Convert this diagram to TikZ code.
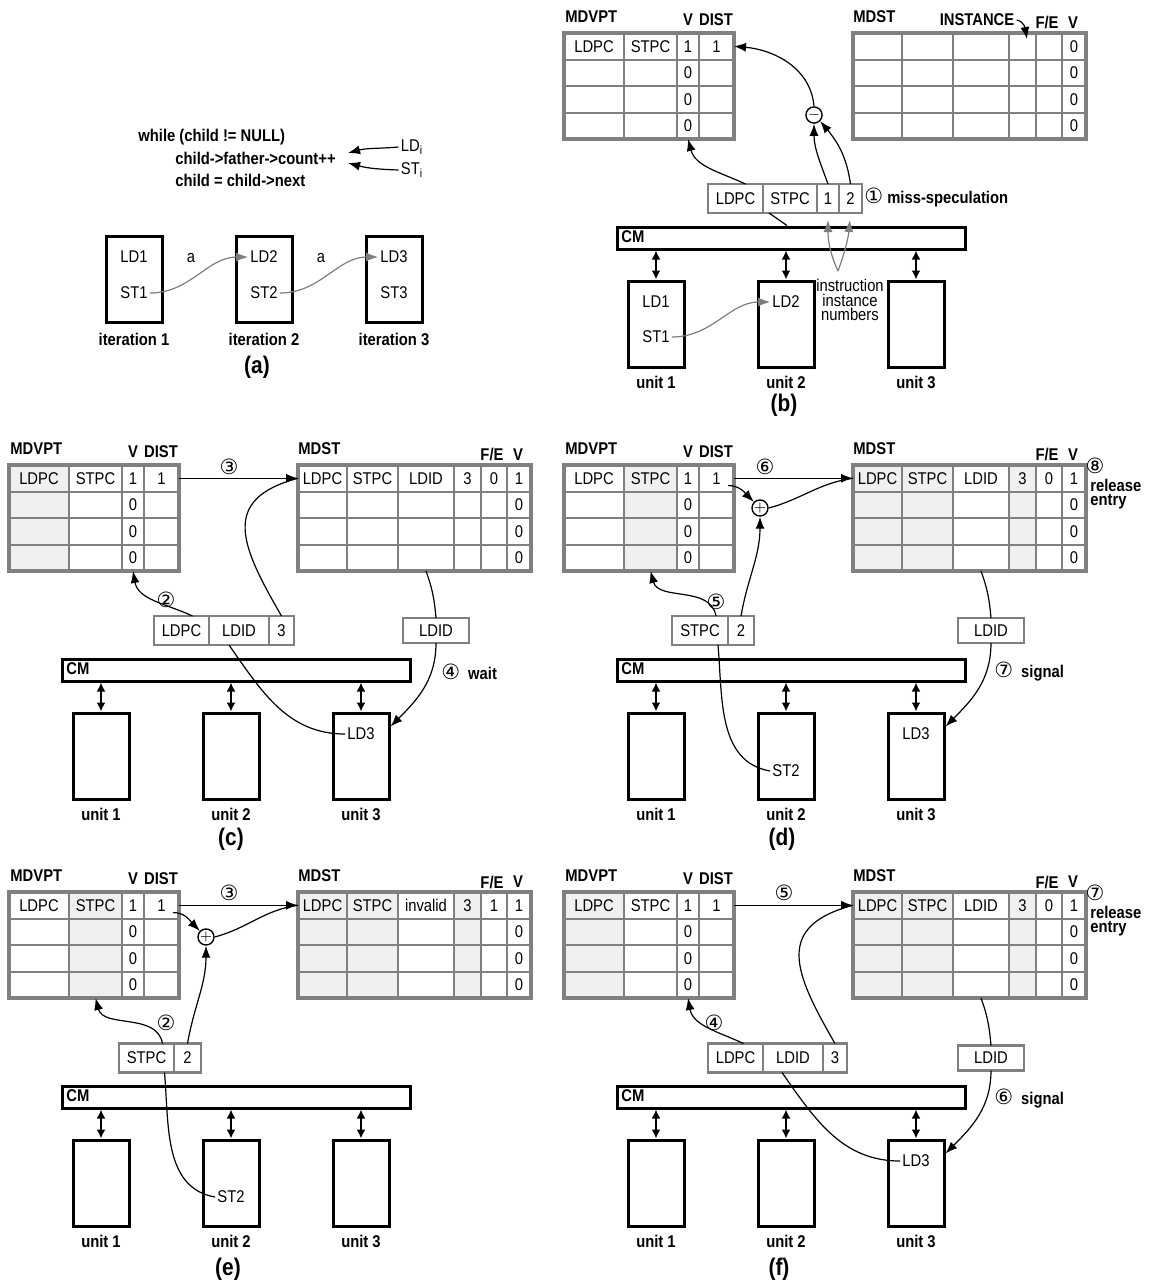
\documentclass[tikz,border=0pt]{standalone}
\usepackage{fontspec}
\setmainfont{Liberation Sans}[FakeStretch=0.87]
\newfontfamily\circfont{DejaVu Sans}
\usepackage{tikz}
\usetikzlibrary{positioning,calc,fit,arrows.meta}
\definecolor{tabgray}{RGB}{128,128,128}
\definecolor{arrgray}{RGB}{125,125,125}
\definecolor{cellshade}{RGB}{240,240,240}
\newcommand{\nrm}{\fontsize{8.5pt}{10pt}\selectfont}
\newcommand{\cn}[1]{{\circfont\mdseries\fontsize{10.5pt}{10pt}\selectfont #1}}

% MDVPT table: #1 name, #2 shaded column (0 = none)
\newcommand{\vptable}[2]{%
  \node[hdr, anchor=west] (#1-lbl) at (8,-17) {MDVPT};
  \node[hdr] (#1-hv) at (133,-20) {V};
  \node[hdr] (#1-hd) at (161,-20) {DIST};
  \foreach \r in {1,...,4} {
    \foreach \c/\xa/\w/\txa/\txb in {1/9/60/LDPC/,2/69/53/STPC/,3/122/22/1/0,4/144/35/1/} {
      \ifnum\c=#2 \def\fc{cellshade}\else\def\fc{white}\fi
      \ifnum\r=1 \let\ct\txa\else\let\ct\txb\fi
      \node[cell, fill=\fc, minimum width=\w*0.5pt] (#1-\r-\c) at ({\xa+0.5*\w},{-33-(\r-0.5)*26.5}) {\ct};
    }
  }
  \node[tabframe, fit=(#1-1-1)(#1-4-4)] (#1) {};
}

% MDST table: #1 name, #2 shaded (0/1), #3-#8 first row
\newcommand{\sttable}[8]{%
  \node[hdr, anchor=west] (#1-lbl) at (296,-17) {MDST};
  \node[hdr] (#1-hf) at (492,-23) {F/E};
  \node[hdr] (#1-hv) at (518,-23) {V};
  \foreach \r in {1,...,4} {
    \foreach \c/\xa/\w/\s/\txa/\txb in {1/298/49/1/#3/,2/347/51/1/#4/,3/398/56/0/#5/,4/454/27/1/#6/,5/481/26/0/#7/,6/507/24/0/#8/0} {
      \pgfmathtruncatemacro\sh{\s*#2}
      \ifnum\sh=1 \def\fc{cellshade}\else\def\fc{white}\fi
      \ifnum\r=1 \let\ct\txa\else\let\ct\txb\fi
      \node[cell, fill=\fc, minimum width=\w*0.5pt] (#1-\r-\c) at ({\xa+0.5*\w},{-33-(\r-0.5)*26.5}) {\ct};
    }
  }
  \node[tabframe, fit=(#1-1-1)(#1-4-6)] (#1) {};
}

% CM bar with three units: #1 prefix
\newcommand{\cmunits}[1]{%
  \node[cmbar] (#1-cm) at (236,-238) {};
  \node[hdr, anchor=west] (#1-cml) at (64,-237) {CM};
  \foreach \i/\x in {1/101,2/231,3/361} {
    \node[unitbox] (#1-u\i) at (\x,-324) {};
    \node[hdr, below=2.5pt of #1-u\i] (#1-ul\i) {unit \i};
    \draw[dbl] (#1-u\i.north |- #1-cm.south) -- (#1-u\i.north);
  }
}

\begin{document}
\begin{tikzpicture}[x=0.5pt, y=0.5pt, font=\nrm]
  \tikzstyle{cell} = [rectangle, draw=tabgray, line width=1pt, inner sep=0pt, outer sep=0pt, minimum height=13.25pt]
  \tikzstyle{tabframe} = [rectangle, draw=tabgray, line width=1.6pt, inner sep=0pt]
  \tikzstyle{reqcell} = [rectangle, draw=tabgray, line width=1.3pt, fill=white, inner sep=0pt, outer sep=0pt, minimum height=14.5pt]
  \tikzstyle{unitbox} = [rectangle, draw, line width=1.5pt, fill=white, minimum width=28pt, minimum height=43pt, inner sep=0pt]
  \tikzstyle{cmbar} = [rectangle, draw, line width=1.5pt, fill=white, minimum width=174pt, minimum height=11pt, inner sep=0pt]
  \tikzstyle{hdr} = [font=\nrm\bfseries, inner sep=1pt]
  \tikzstyle{txt} = [font=\nrm, inner sep=1pt]
  \tikzstyle{plabel} = [font=\fontsize{12pt}{14pt}\selectfont\bfseries, inner sep=1pt]
  \tikzstyle{op} = [circle, draw, line width=0.7pt, fill=white, minimum size=6.5pt, inner sep=0pt, font=\fontsize{7pt}{7pt}\selectfont\bfseries]
  \tikzstyle{link} = [line width=0.6pt]
  \tikzstyle{arr} = [link, -{Latex[length=6pt,width=4.5pt]}]
  \tikzstyle{garr} = [arr, draw=arrgray]
  \tikzstyle{dbl} = [line width=1pt, {Latex[length=4.5pt,width=4.5pt]}-{Latex[length=4.5pt,width=4.5pt]}]
  \tikzstyle{note} = [font=\fontsize{8.5pt}{7pt}\selectfont\bfseries, align=left, anchor=north west, inner sep=1pt]

  \useasboundingbox (0,0) rectangle (1156,-1287);

  % (a) the loop and its iterations
  \node[hdr, anchor=west] (a-l1) at (136,-137) {while (child != NULL)};
  \node[hdr, anchor=west] (a-l2) at (173,-158) {child->father->count++};
  \node[hdr, anchor=west] (a-l3) at (173,-180) {child = child->next};
  \node[txt] (a-ldi) at (412,-147) {LD\textsubscript{i}};
  \node[txt] (a-sti) at (412,-170) {ST\textsubscript{i}};
  \draw[arr] (a-ldi.west) to[out=185,in=15] ([xshift=5pt,yshift=2.5pt]a-l2.east);
  \draw[arr] (a-sti.west) to[out=178,in=-15] ([xshift=5pt,yshift=-2.5pt]a-l2.east);
  \foreach \i/\x in {1/134,2/264,3/394} {
    \node[unitbox] (a-it\i) at (\x,-279) {};
    \node[txt] (a-ld\i) at (\x,-257) {LD\i};
    \node[txt] (a-st\i) at (\x,-293) {ST\i};
    \node[hdr, below=3.5pt of a-it\i] (a-il\i) {iteration \i};
  }
  \draw[garr] (a-st1.east) to[out=0,in=180] node[txt, midway, above=5pt, xshift=-4pt] (a-e1) {a} (a-ld2.west);
  \draw[garr] (a-st2.east) to[out=0,in=180] node[txt, midway, above=5pt, xshift=-4pt] (a-e2) {a} (a-ld3.west);
  \node[plabel] (a-cap) at (257,-367) {(a)};

  % (b) miss-speculation
  \begin{scope}[shift={(555,0)}]
    \vptable{b-vt}{0}
    \sttable{b-st}{0}{}{}{}{}{}{0}
    \cmunits{b}
    \node[hdr] (b-instl) at (422,-20) {INSTANCE};
    \draw[arr] (b-instl.east) to[out=-10,in=100] ([xshift=-4.5pt,yshift=-3pt]b-st-1-4.north east);
    \node[reqcell, minimum width=27.5pt] (b-r1) at (180.5,-198.5) {LDPC};
    \node[reqcell, minimum width=27pt, right=0pt of b-r1] (b-r2) {STPC};
    \node[reqcell, minimum width=11pt, right=0pt of b-r2] (b-r3) {1};
    \node[reqcell, minimum width=11.5pt, right=0pt of b-r3] (b-r4) {2};
    \node[hdr, anchor=west] (b-miss) at (307,-198) {\cn{①} miss-speculation};
    \node[op] (b-minus) at (259,-115) {$-$};
    \draw[arr] ([xshift=5pt]b-r1.north) to[out=155,in=-75] (b-vt-4-3.south);
    \draw[arr] (b-r3.north) to[out=110,in=-90] (b-minus.south);
    \draw[arr] (b-r4.north) to[out=98,in=-50] (b-minus.south east);
    \draw[arr] (b-minus.north) to[out=95,in=-5] (b-vt-1-4.east);
    \draw[link] ([xshift=3pt]b-r2.south west) -- ([xshift=-2pt]b-cm.north);
    \node[txt] (b-ld1) at (101,-302) {LD1};
    \node[txt] (b-st1) at (101,-337) {ST1};
    \node[txt] (b-ld2) at (231,-302) {LD2};
    \draw[garr] (b-st1.east) to[out=0,in=180] (b-ld2.west);
    \node[txt, align=center, font=\fontsize{8.5pt}{7.4pt}\selectfont] (b-inst) at (295,-300) {instruction\\instance\\numbers};
    \coordinate (b-fork) at (283,-271);
    \draw[garr, shorten >=3.5pt] (b-fork) to[out=115,in=-90] (b-r3.south);
    \draw[garr, shorten >=3.5pt] (b-fork) to[out=70,in=-95] (b-r4.south);
    \node[plabel] (b-cap) at (229,-405) {(b)};
  \end{scope}

  % (c) load waits
  \begin{scope}[shift={(0,-432)}]
    \vptable{c-vt}{1}
    \sttable{c-st}{0}{LDPC}{STPC}{LDID}{3}{0}{1}
    \cmunits{c}
    \node[reqcell, minimum width=27.5pt] (c-r1) at (181.5,-198.5) {LDPC};
    \node[reqcell, minimum width=30pt, right=0pt of c-r1] (c-r2) {LDID};
    \node[reqcell, minimum width=12.5pt, right=0pt of c-r2] (c-r3) {3};
    \node[reqcell, minimum width=33pt, minimum height=12.5pt] (c-ldid) at (436,-198.5) {LDID};
    \node[txt] (c-ld3) at (361,-302) {LD3};
    \draw[arr] ([xshift=5.5pt]c-r1.north) to[out=155,in=-80] (c-vt-4-3.south);
    \node[hdr] (c-n2) at (166,-168) {\cn{②}};
    \draw[arr] (c-vt-1-4.east) -- (c-st-1-1.west);
    \node[hdr] (c-n3) at (229,-35) {\cn{③}};
    \draw[link] (c-r3.north) to[out=120,in=195,looseness=1.5] (c-st-1-1.west);
    \draw[link] (c-st-4-3.south) to[out=-70,in=95] (c-ldid.north);
    \draw[link] ([xshift=-5pt]c-r2.south) to[out=-55,in=180] (c-ld3.west);
    \draw[arr] (c-ldid.south) to[out=-90,in=45] (c-u3.45);
    \node[hdr, anchor=west] (c-wait) at (439,-240) {\cn{④}\hspace{4pt}wait};
    \node[plabel] (c-cap) at (231,-407) {(c)};
  \end{scope}

  % (d) store signals
  \begin{scope}[shift={(555,-432)}]
    \vptable{d-vt}{2}
    \sttable{d-st}{1}{LDPC}{STPC}{LDID}{3}{0}{1}
    \cmunits{d}
    \node[reqcell, minimum width=28pt] (d-r1) at (145,-198.5) {STPC};
    \node[reqcell, minimum width=13pt, right=0pt of d-r1] (d-r2) {2};
    \node[reqcell, minimum width=33pt, minimum height=12.5pt] (d-ldid) at (436,-198.5) {LDID};
    \node[op] (d-plus) at (205,-76) {$+$};
    \node[txt] (d-st2) at (231,-339) {ST2};
    \node[txt] (d-ld3) at (361,-302) {LD3};
    \draw[arr] ([xshift=8pt]d-r1.north) to[out=100,in=-75] (d-vt-4-2.south);
    \node[hdr] (d-n5) at (161,-170) {\cn{⑤}};
    \draw[arr] (d-r2.north) to[out=80,in=-90] (d-plus.south);
    \draw[arr] ([xshift=-3pt,yshift=3pt]d-vt-1-4.south east) to[out=0,in=135] (d-plus.north west);
    \draw[link] (d-plus.east) to[out=15,in=188] (d-st-1-1.west);
    \draw[arr] (d-vt-1-4.east) -- (d-st-1-1.west);
    \node[hdr] (d-n6) at (210,-35) {\cn{⑥}};
    \draw[link] (d-st-4-3.south) to[out=-70,in=95] (d-ldid.north);
    \draw[link] ([xshift=9pt]d-r1.south) to[out=-85,in=170] (d-st2.west);
    \draw[arr] (d-ldid.south) to[out=-90,in=45] (d-u3.45);
    \node[hdr, anchor=west] (d-sig) at (437,-240) {\cn{⑦}\hspace{4pt}signal};
    \node[hdr] (d-n8) at (540,-34) {\cn{⑧}};
    \node[note] (d-rel) at (533,-45) {release\\entry};
    \node[plabel] (d-cap) at (227,-407) {(d)};
  \end{scope}

  % (e) store before load
  \begin{scope}[shift={(0,-859)}]
    \vptable{e-vt}{2}
    \sttable{e-st}{1}{LDPC}{STPC}{invalid}{3}{1}{1}
    \cmunits{e}
    \node[reqcell, minimum width=27.5pt] (e-r1) at (146.5,-199) {STPC};
    \node[reqcell, minimum width=13.5pt, right=0pt of e-r1] (e-r2) {2};
    \node[op] (e-plus) at (206,-78) {$+$};
    \node[txt] (e-st2) at (231,-338) {ST2};
    \draw[arr] ([xshift=8pt]e-r1.north) to[out=100,in=-75] (e-vt-4-2.south);
    \node[hdr] (e-n2) at (166,-164) {\cn{②}};
    \draw[arr] (e-r2.north) to[out=80,in=-90] (e-plus.south);
    \draw[arr] ([xshift=-3pt,yshift=3pt]e-vt-1-4.south east) to[out=0,in=135] (e-plus.north west);
    \draw[link] (e-plus.east) to[out=15,in=188] (e-st-1-1.west);
    \draw[arr] (e-vt-1-4.east) -- (e-st-1-1.west);
    \node[hdr] (e-n3) at (229,-34) {\cn{③}};
    \draw[link] ([xshift=9pt]e-r1.south) to[out=-85,in=170] (e-st2.west);
    \node[plabel] (e-cap) at (228,-410) {(e)};
  \end{scope}

  % (f) load after store
  \begin{scope}[shift={(555,-859)}]
    \vptable{f-vt}{1}
    \sttable{f-st}{1}{LDPC}{STPC}{LDID}{3}{0}{1}
    \cmunits{f}
    \node[reqcell, minimum width=27.5pt] (f-r1) at (180.5,-199) {LDPC};
    \node[reqcell, minimum width=30pt, right=0pt of f-r1] (f-r2) {LDID};
    \node[reqcell, minimum width=12pt, right=0pt of f-r2] (f-r3) {3};
    \node[reqcell, minimum width=33pt, minimum height=12.5pt] (f-ldid) at (436,-199) {LDID};
    \node[txt] (f-ld3) at (361,-302) {LD3};
    \draw[arr] ([xshift=4pt]f-r1.north) to[out=155,in=-80] (f-vt-4-3.south);
    \node[hdr] (f-n4) at (159,-164) {\cn{④}};
    \draw[arr] (f-vt-1-4.east) -- (f-st-1-1.west);
    \node[hdr] (f-n5) at (229,-34) {\cn{⑤}};
    \draw[link] (f-r3.north) to[out=120,in=195,looseness=1.5] (f-st-1-1.west);
    \draw[link] (f-st-4-3.south) to[out=-70,in=95] (f-ldid.north);
    \draw[link] ([xshift=-5.5pt]f-r2.south) to[out=-55,in=180] (f-ld3.west);
    \draw[arr] (f-ldid.south) to[out=-90,in=45] (f-u3.45);
    \node[hdr, anchor=west] (f-sig) at (437,-240) {\cn{⑥}\hspace{4pt}signal};
    \node[hdr] (f-n7) at (540,-34) {\cn{⑦}};
    \node[note] (f-rel) at (533,-45) {release\\entry};
    \node[plabel] (f-cap) at (224,-410) {(f)};
  \end{scope}
\end{tikzpicture}
\end{document}
